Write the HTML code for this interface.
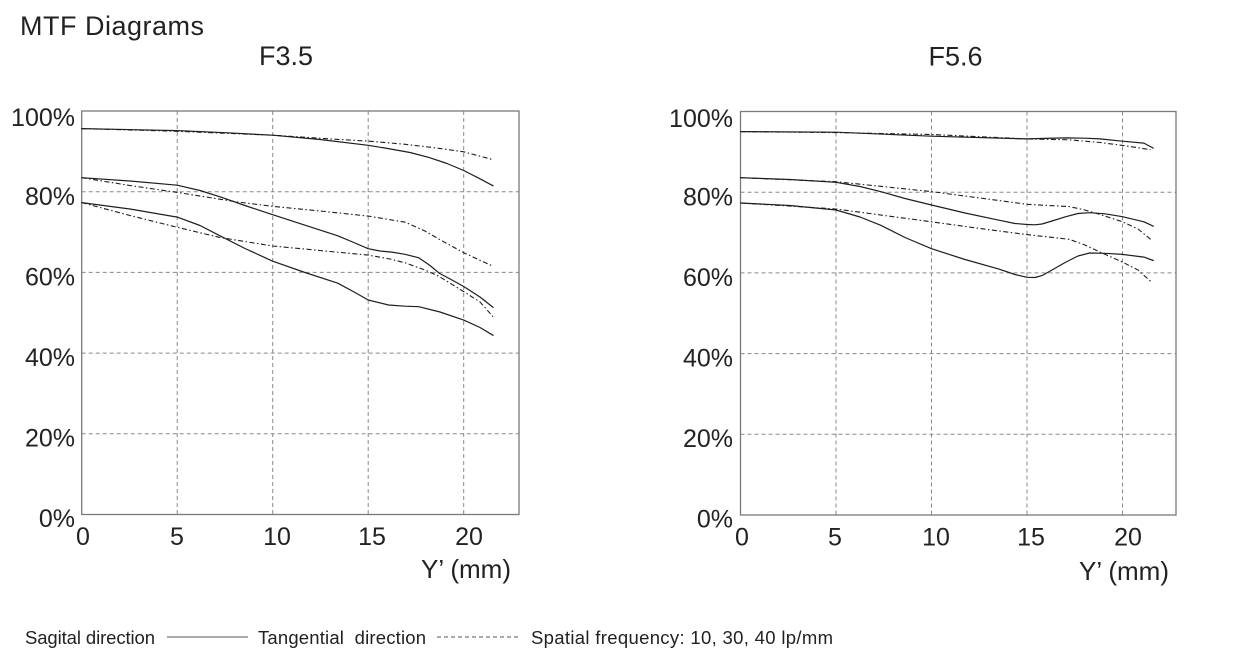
<!DOCTYPE html>
<html>
<head>
<meta charset="utf-8">
<style>
  html,body{margin:0;padding:0;background:#fff;}
  svg{display:block;}
  text{font-family:"Liberation Sans",sans-serif;fill:#222;}
</style>
</head>
<body>
<svg width="1233" height="672" viewBox="0 0 1233 672" xmlns="http://www.w3.org/2000/svg">
  <rect x="0" y="0" width="1233" height="672" fill="#fff"/>

  <!-- Titles -->
  <text x="20" y="35" font-size="27" textLength="184">MTF Diagrams</text>
  <text x="286" y="65" font-size="27" text-anchor="middle">F3.5</text>
  <text x="955.5" y="65.5" font-size="27" text-anchor="middle">F5.6</text>

  <!-- ============ LEFT CHART ============ -->
  <g stroke="#8a8a8a" stroke-width="1" stroke-dasharray="4 3" fill="none">
    <line x1="81.7" y1="191.7" x2="519" y2="191.7"/>
    <line x1="81.7" y1="272.4" x2="519" y2="272.4"/>
    <line x1="81.7" y1="353.1" x2="519" y2="353.1"/>
    <line x1="81.7" y1="433.8" x2="519" y2="433.8"/>
    <line x1="177.2" y1="111" x2="177.2" y2="514.5"/>
    <line x1="272.7" y1="111" x2="272.7" y2="514.5"/>
    <line x1="368.2" y1="111" x2="368.2" y2="514.5"/>
    <line x1="463.7" y1="111" x2="463.7" y2="514.5"/>
  </g>
  <rect x="81.7" y="111" width="437.3" height="403.5" fill="none" stroke="#7a7a7a" stroke-width="1.3"/>

  <g fill="none" stroke="#1e1e1e" stroke-width="1.2" stroke-linejoin="round" stroke-linecap="round">
    <!-- solid (sagittal) -->
    <polyline points="81.7,128.6 177.2,130.6 225,132.7 272.7,135.2 320,139.5 368.2,145.3 388.4,148.6 410,152.5 428.9,157.4 447,163.5 463.7,170.5 480,178.8 493.1,185.8"/>
    <polyline points="81.7,177.7 130,181 177.2,185.2 200,190.5 220,196.8 245,205.5 272.7,214.7 305,225.2 337.8,235.8 355,243 368.2,248.7 380,251 391.9,252.1 405,254.3 418.8,257.8 430,265.5 439.1,273.1 452,280 463.7,286.5 480,297 493.1,307.4"/>
    <polyline points="81.7,202.6 130,209 177.2,217.1 200,225.5 220,235.8 245,248.5 272.7,261.2 305,272.5 337.8,283.2 355,292.5 368.2,300.0 388.4,305.0 405,306.2 418.8,306.7 440,312 463.7,320.1 480,327.5 493.1,335.3"/>
  </g>
  <g fill="none" stroke="#1e1e1e" stroke-width="1.1" stroke-dasharray="5 2.5 1.5 2.5" stroke-linejoin="round">
    <!-- dashed (tangential) -->
    <polyline points="81.7,128.6 177.2,131.3 272.7,135.2 337.8,139.4 368.2,141.1 405.3,144.3 435,147.8 463.7,151.8 493.1,159.7"/>
    <polyline points="81.7,177.7 130,185.5 177.2,192.4 236.8,201.9 272.7,206.3 320,211 368.2,216.1 405.3,222.2 425,231 439.1,239.2 463.7,252.7 493.1,266.3"/>
    <polyline points="81.7,202.6 130,215.5 177.2,227.3 220,237.5 272.7,246.0 320,250.5 368.2,255.1 390,259 405.3,262.9 425,270 439.1,276.4 463.7,291.6 480,302 493.1,316.8"/>
  </g>

  <!-- left y labels -->
  <g font-size="25" text-anchor="end">
    <text x="75" y="126">100%</text>
    <text x="75" y="205">80%</text>
    <text x="75" y="285.5">60%</text>
    <text x="75" y="366">40%</text>
    <text x="75" y="446.5">20%</text>
    <text x="75" y="527">0%</text>
  </g>
  <!-- left x labels -->
  <g font-size="25" text-anchor="middle">
    <text x="83" y="545">0</text>
    <text x="177" y="545">5</text>
    <text x="277" y="545">10</text>
    <text x="372" y="545">15</text>
    <text x="469" y="545">20</text>
  </g>
  <text x="511" y="578" font-size="26" text-anchor="end">Y’ (mm)</text>

  <!-- ============ RIGHT CHART ============ -->
  <g stroke="#8a8a8a" stroke-width="1" stroke-dasharray="4 3" fill="none">
    <line x1="740.5" y1="192.2" x2="1176" y2="192.2"/>
    <line x1="740.5" y1="272.9" x2="1176" y2="272.9"/>
    <line x1="740.5" y1="353.6" x2="1176" y2="353.6"/>
    <line x1="740.5" y1="434.3" x2="1176" y2="434.3"/>
    <line x1="836" y1="111.5" x2="836" y2="515"/>
    <line x1="931.5" y1="111.5" x2="931.5" y2="515"/>
    <line x1="1027" y1="111.5" x2="1027" y2="515"/>
    <line x1="1122.5" y1="111.5" x2="1122.5" y2="515"/>
  </g>
  <rect x="740.5" y="111.5" width="435.5" height="403.5" fill="none" stroke="#7a7a7a" stroke-width="1.3"/>

  <g fill="none" stroke="#1e1e1e" stroke-width="1.2" stroke-linejoin="round" stroke-linecap="round">
    <polyline points="740.5,131.6 836.0,132.2 931.5,136.2 1027.0,138.9 1045,138.4 1065.8,137.9 1085,138.2 1099.8,138.9 1122.5,141.2 1143.9,143.1 1153.3,148.1"/>
    <polyline points="740.5,177.7 790,179.5 836.0,182.3 860,186.5 880.5,191.6 905,198.5 931.5,205.0 965,213 998.4,220.1 1015,223.5 1027,224.5 1035,224.8 1042,224.0 1052,221 1065.8,216.7 1078,213.5 1089.6,212.7 1105,213.8 1122.5,216.7 1143.9,221.8 1153.3,226.2"/>
    <polyline points="740.5,203.0 790,205.5 836.0,210.0 860,217 880.5,225.2 905,237.5 931.5,248.7 965,259.5 998.4,268.9 1015,274.5 1027,277.3 1035,277.5 1042,275.6 1052,270 1065.8,262.1 1078,256 1089.6,253.0 1105,253.3 1122.5,254.4 1143.9,257.1 1153.3,260.5"/>
  </g>
  <g fill="none" stroke="#1e1e1e" stroke-width="1.1" stroke-dasharray="5 2.5 1.5 2.5" stroke-linejoin="round">
    <polyline points="740.5,131.6 836.0,132.6 931.5,134.5 1027.0,138.9 1069.2,139.8 1100,142.5 1122.5,145.4 1150.6,149.7"/>
    <polyline points="740.5,177.7 836.0,181.7 931.5,191.6 980,198 1027.0,204.3 1069.2,206.6 1085,210 1099.8,214.4 1122.5,221.8 1138,229 1150.6,239.3"/>
    <polyline points="740.5,203.0 836.0,209.0 931.5,221.8 980,228.5 1027.0,234.6 1069.2,239.3 1085,245 1099.8,252.0 1122.5,262.1 1138,270 1150.6,281.3"/>
  </g>

  <!-- right y labels -->
  <g font-size="25" text-anchor="end">
    <text x="733" y="127">100%</text>
    <text x="733" y="205.5">80%</text>
    <text x="733" y="286">60%</text>
    <text x="733" y="366.5">40%</text>
    <text x="733" y="447">20%</text>
    <text x="733" y="527.5">0%</text>
  </g>
  <!-- right x labels -->
  <g font-size="25" text-anchor="middle">
    <text x="742" y="545.5">0</text>
    <text x="835" y="545.5">5</text>
    <text x="936" y="545.5">10</text>
    <text x="1031" y="545.5">15</text>
    <text x="1128" y="545.5">20</text>
  </g>
  <text x="1169" y="580" font-size="26" text-anchor="end">Y’ (mm)</text>

  <!-- ============ LEGEND ============ -->
  <text x="25" y="644" font-size="18.5" textLength="130">Sagital direction</text>
  <line x1="167" y1="637" x2="248" y2="637" stroke="#555" stroke-width="1"/>
  <text x="258" y="644" font-size="18.5" textLength="168" xml:space="preserve">Tangential  direction</text>
  <line x1="437" y1="637" x2="518" y2="637" stroke="#555" stroke-width="1" stroke-dasharray="4 3"/>
  <text x="531" y="644" font-size="18.5" textLength="302">Spatial frequency: 10, 30, 40 lp/mm</text>
</svg>
</body>
</html>
